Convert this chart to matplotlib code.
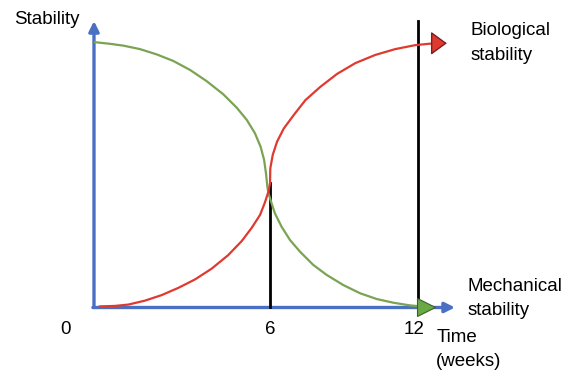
import matplotlib.pyplot as plt

# schematic units: time in weeks from the axis corner, stability 0..1
mech_t = [0.04, 0.59, 1.09, 1.70, 2.32, 2.94, 3.56, 4.17, 4.79, 5.29, 5.66, 5.96,
          6.17, 6.30, 6.37, 6.42, 6.46, 6.54, 6.70, 6.95, 7.26, 7.63, 8.12, 8.62,
          9.23, 9.85, 10.47, 11.09, 11.70, 12.01]
mech_s = [1.003, 0.997, 0.990, 0.977, 0.957, 0.932, 0.898, 0.856, 0.806, 0.755, 0.709, 0.659,
          0.608, 0.558, 0.507, 0.457, 0.433, 0.406, 0.356, 0.305, 0.255, 0.211, 0.161, 0.123,
          0.085, 0.054, 0.032, 0.018, 0.008, 0.005]

bio_t = [0.22, 0.78, 1.27, 1.89, 2.51, 3.12, 3.74, 4.36, 4.97, 5.47, 5.84, 6.15,
         6.33, 6.46, 6.52, 6.53, 6.62, 6.78, 7.03, 7.40, 7.83, 8.38, 9.00, 9.68,
         10.42, 11.16, 11.90, 12.40, 12.64]
bio_s = [0.004, 0.006, 0.011, 0.026, 0.047, 0.074, 0.106, 0.147, 0.198, 0.251, 0.301, 0.350,
         0.397, 0.438, 0.470, 0.526, 0.577, 0.627, 0.677, 0.728, 0.784, 0.834, 0.883, 0.924,
         0.955, 0.977, 0.992, 0.997, 0.999]

marker_t = [6.52, 12.0]
marker_top = [0.471, 1.083]

tick_labels = ["0", "6", "12"]
tick_pos = [-1.07, 6.52, 11.84]

plt.rcParams['font.family'] = ['Liberation Sans', 'DejaVu Sans']

BLUE = '#4a70c4'
GREEN = '#7aa352'
RED = '#e03a30'

fig = plt.figure(figsize=(5.66, 3.72), dpi=100)
ax = fig.add_axes([0, 0, 1, 1])
ax.set_xlim(-3.481, 17.481)
ax.set_ylim(-0.2439, 1.1626)
ax.axis('off')

# axes arrows
ax.annotate('', xy=(0, 1.083), xytext=(0, 0),
            arrowprops=dict(arrowstyle='-|>,head_length=0.6,head_width=0.3',
                            color=BLUE, lw=2.4, shrinkA=0, shrinkB=0))
ax.annotate('', xy=(13.37, 0), xytext=(-0.04, 0),
            arrowprops=dict(arrowstyle='-|>,head_length=0.6,head_width=0.3',
                            color=BLUE, lw=2.4, shrinkA=0, shrinkB=0))

# week markers
for t, top in zip(marker_t, marker_top):
    ax.plot([t, t], [0, top], color='black', lw=2.0, zorder=3)

ax.plot(mech_t, mech_s, color=GREEN, lw=1.6, zorder=4)
ax.plot(bio_t, bio_s, color=RED, lw=1.6, zorder=4)

ax.annotate('', xy=(13.07, bio_s[-1]), xytext=(bio_t[-1] - 0.1, bio_s[-1]),
            arrowprops=dict(arrowstyle='-|>,head_length=0.75,head_width=0.55',
                            fc=RED, ec='#7a2020', lw=1.0, mutation_scale=13.5,
                            shrinkA=0, shrinkB=0), zorder=5)
ax.plot([12.3], [0], marker='>', markersize=13, color='#6aaa45',
        markeredgecolor='#3f5f2a', markeredgewidth=0.8, zorder=5)

fs = 13.5
ax.text(-2.96, 1.088, 'Stability', fontsize=fs, ha='left', va='center')
ax.text(13.93, 1.0, 'Biological\nstability', fontsize=fs, ha='left',
        va='center', linespacing=1.55)
ax.text(13.85, 0.034, 'Mechanical\nstability', fontsize=fs, ha='left',
        va='center', linespacing=1.6)
for lab, x in zip(tick_labels, tick_pos):
    ax.text(x, -0.085, lab, fontsize=fs, ha='center', va='center')
ax.text(12.68, -0.16, 'Time\n(weeks)', fontsize=fs, ha='left', va='center',
        linespacing=1.55)

fig.savefig('out.png', dpi=100)
